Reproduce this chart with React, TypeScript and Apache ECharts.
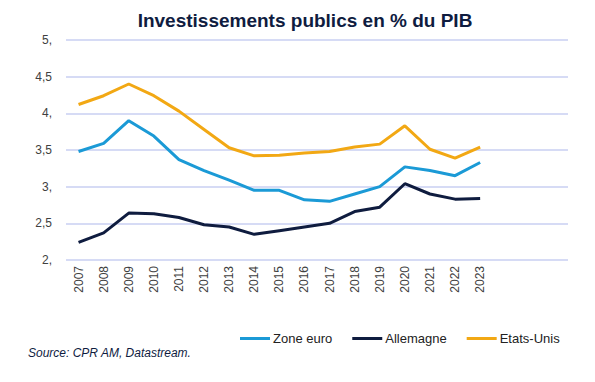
import React, { useEffect, useRef } from "react";
import * as echarts from "echarts";

const years = ["2007","2008","2009","2010","2011","2012","2013","2014","2015","2016","2017","2018","2019","2020","2021","2022","2023","","",""];
const zoneEuro = [3.48, 3.59, 3.90, 3.69, 3.37, 3.22, 3.09, 2.95, 2.95, 2.82, 2.80, 2.90, 3.00, 3.27, 3.22, 3.15, 3.33];
const allemagne = [2.24, 2.37, 2.64, 2.63, 2.58, 2.48, 2.45, 2.35, 2.40, 2.45, 2.50, 2.66, 2.72, 3.04, 2.90, 2.83, 2.84];
const etatsUnis = [4.12, 4.24, 4.40, 4.24, 4.03, 3.78, 3.53, 3.42, 3.43, 3.46, 3.48, 3.54, 3.58, 3.83, 3.51, 3.39, 3.54];

const FONT = "'Liberation Sans', Arial, sans-serif";

export default function App() {
  const ref = useRef<HTMLDivElement>(null);
  useEffect(() => {
    const chart = echarts.init(ref.current!, null, { renderer: "svg" });
    const mk = (name: string, data: number[], color: string) => ({
      name, type: "line", data, symbol: "none",
      lineStyle: { width: 3, color }, itemStyle: { color },
    });
    chart.setOption({
      animation: false,
      title: {
        text: "Investissements publics en % du PIB",
        left: 300, textAlign: "center", top: 6,
        textStyle: { fontFamily: FONT, fontSize: 19, fontWeight: "bold", color: "#0f1c3f" },
      },
      grid: { left: 66, right: 27, top: 40, bottom: 122 },
      xAxis: {
        type: "category", data: years, boundaryGap: true,
        axisLine: { show: false }, axisTick: { show: false },
        axisLabel: { rotate: 90, color: "#404040", fontFamily: FONT, fontSize: 12, margin: 6, interval: 0 },
      },
      yAxis: {
        type: "value", min: 2, max: 5, interval: 0.5,
        axisLine: { show: false }, axisTick: { show: false },
        splitLine: { lineStyle: { color: "#c9cff2", width: 1.5 } },
        axisLabel: {
          color: "#404040", fontFamily: FONT, fontSize: 12, margin: 14,
          formatter: (v: number) => Number.isInteger(v) ? v + "," : String(v).replace(".", ","),
        },
      },
      legend: {
        left: 235, top: 327, icon: "rect", itemWidth: 30, itemHeight: 3, itemGap: 20,
        textStyle: { fontFamily: FONT, fontSize: 13, color: "#222", padding: [0, 0, 0, -2] },
        data: ["Zone euro", "Allemagne", "Etats-Unis"],
      },
      graphic: [{
        type: "text", left: 28, top: 347,
        style: { text: "Source: CPR AM, Datastream.", fontFamily: FONT, fontSize: 12, fontStyle: "italic", fill: "#0f1c3f" },
      }],
      series: [
        mk("Zone euro", zoneEuro, "#1b9ad6"),
        mk("Allemagne", allemagne, "#0f1c3f"),
        mk("Etats-Unis", etatsUnis, "#f2a814"),
      ],
    });
    return () => chart.dispose();
  }, []);
  return <div ref={ref} style={{ width: 595, height: 382, position: "absolute", left: 0, top: 0, background: "#fff" }} />;
}
